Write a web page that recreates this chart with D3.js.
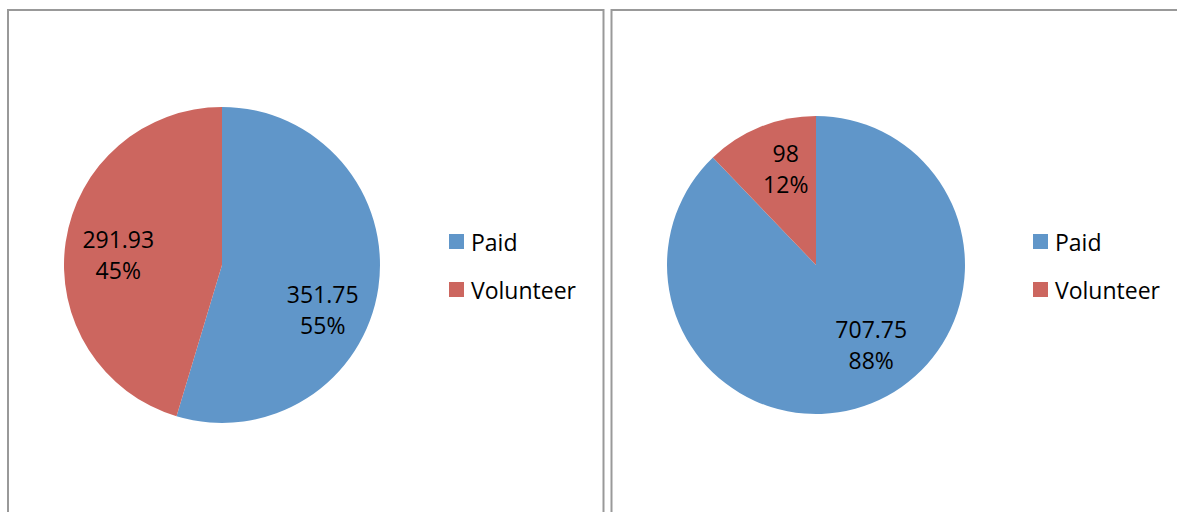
<!DOCTYPE html>
<html>
<head>
<meta charset="utf-8">
<script src="https://cdn.jsdelivr.net/npm/d3@7"></script>
<style>
  html, body { margin: 0; padding: 0; background: #fff; }
  svg { display: block; font-family: "Open Sans", "Noto Sans", sans-serif; }
</style>
</head>
<body>
<div id="chart"></div>
<script>
const categories = ["Paid", "Volunteer"];
const leftValues = [351.75, 291.93];
const rightValues = [707.75, 98];
const valueLabels = [["351.75", "291.93"], ["707.75", "98"]];

const width = 1177;
const height = 512;
const color = d3.scaleOrdinal()
  .domain(categories)
  .range(["#6096C9", "#CC665F"]);

const svg = d3.select("#chart")
  .append("svg")
  .attr("width", width)
  .attr("height", height);

// two panels, each with its own pie + legend
const panels = [
  { values: leftValues, labels: valueLabels[0], box: [8, 10, 595.5], cx: 222, cy: 265, r: 158, legendX: 449, shift: [[-4, 27], [1, 2]] },
  { values: rightValues, labels: valueLabels[1], box: [611.5, 10, 600], cx: 816, cy: 265, r: 149, legendX: 1033, shift: [[18, -16], [7, -6]] }
];

const pie = d3.pie().sort(null).value(d => d.value);
const fontSize = 23;

panels.forEach(p => {
  svg.append("rect")
    .attr("x", p.box[0])
    .attr("y", p.box[1])
    .attr("width", p.box[2])
    .attr("height", height + 20)
    .attr("fill", "none")
    .attr("stroke", "#999")
    .attr("stroke-width", 2);

  const data = categories.map((c, i) => ({ cat: c, value: p.values[i], label: p.labels[i] }));
  const total = d3.sum(p.values);
  const arcs = pie(data);
  const arc = d3.arc().innerRadius(0).outerRadius(p.r);
  const labelArc = d3.arc().innerRadius(p.r * 0.67).outerRadius(p.r * 0.67);

  const g = svg.append("g").attr("transform", `translate(${p.cx},${p.cy})`);

  g.selectAll("path")
    .data(arcs)
    .join("path")
    .attr("d", arc)
    .attr("fill", d => color(d.data.cat));

  const lbl = g.selectAll("text.lbl")
    .data(arcs)
    .join("text")
    .attr("class", "lbl")
    .attr("text-anchor", "middle")
    .attr("font-size", fontSize)
    .attr("fill", "#000")
    .attr("transform", (d, i) => {
      const [x, y] = labelArc.centroid(d);
      return `translate(${x + p.shift[i][0]},${y + p.shift[i][1]})`;
    });

  lbl.append("tspan")
    .attr("x", 0)
    .attr("y", -4)
    .text(d => d.data.label);
  lbl.append("tspan")
    .attr("x", 0)
    .attr("y", 27)
    .text(d => Math.round(d.data.value / total * 100) + "%");

  const legend = svg.append("g")
    .attr("transform", `translate(${p.legendX},234)`);

  const item = legend.selectAll("g")
    .data(categories)
    .join("g")
    .attr("transform", (d, i) => `translate(0,${i * 48})`);

  item.append("rect")
    .attr("width", 15)
    .attr("height", 15)
    .attr("fill", d => color(d));

  item.append("text")
    .attr("x", 22)
    .attr("y", 17)
    .attr("font-size", fontSize)
    .attr("fill", "#000")
    .text(d => d);
});
</script>
</body>
</html>
